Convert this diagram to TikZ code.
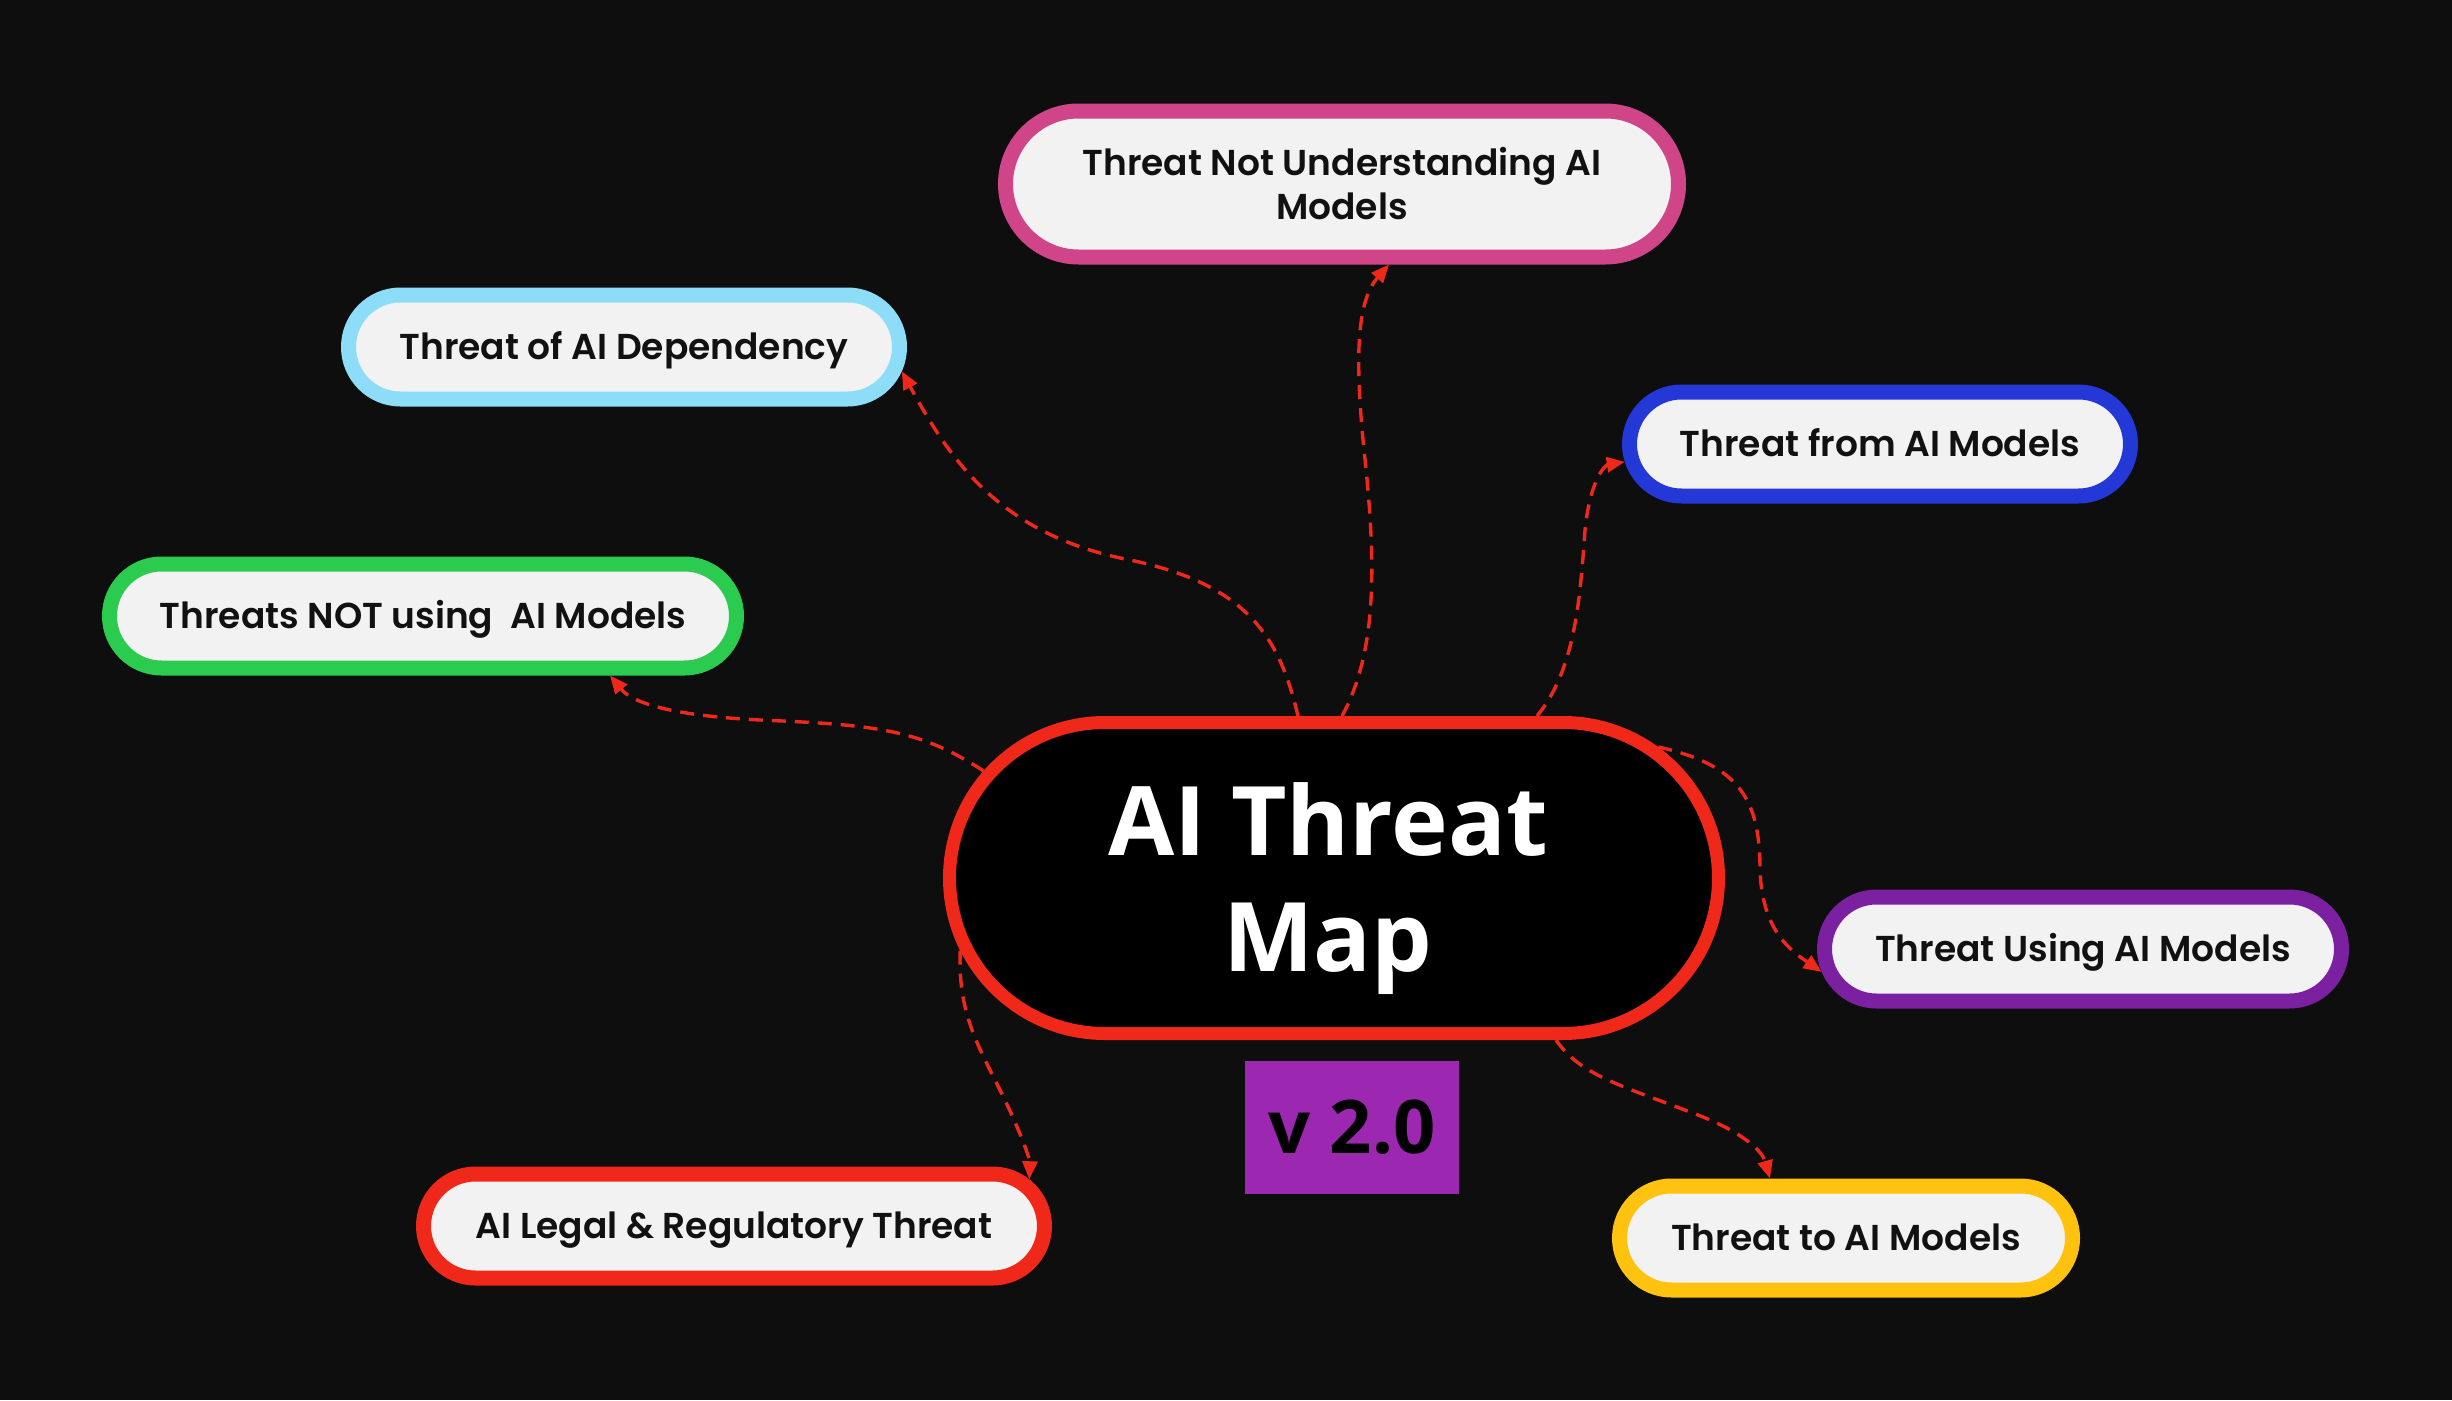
\documentclass[tikz,border=0pt]{standalone}
\usepackage{fontspec}
\setmainfont{Poppins}
\newfontfamily\pillfont{Poppins SemiBold}
\newfontfamily\centerfont{Open Sans}
\usetikzlibrary{shapes.misc,arrows.meta,backgrounds}
\definecolor{bg}{HTML}{0E0E0E}
\definecolor{pillfill}{HTML}{F2F2F2}
\definecolor{pilltext}{HTML}{111111}
\definecolor{linkred}{HTML}{F0281A}
\definecolor{cmagenta}{HTML}{CF4588}
\definecolor{clightblue}{HTML}{8EDDF8}
\definecolor{cblue}{HTML}{2438D8}
\definecolor{cgreen}{HTML}{2BCB4F}
\definecolor{cpurple}{HTML}{7A20A0}
\definecolor{cred}{HTML}{F0281A}
\definecolor{cyellow}{HTML}{FFC20E}
\definecolor{cvbox}{HTML}{9C27B0}
\tikzset{
  pill/.style={rounded rectangle, draw=#1, line width=15pt, fill=pillfill,
    text=pilltext, font=\pillfont\fontsize{36}{44}\selectfont, inner sep=0pt,
    minimum height=104pt, align=center},
  oneline/.style={text height=29pt, text depth=4pt},
  conn/.style={draw=linkred, line width=3.4pt, dash pattern=on 14pt off 9pt,
    -{Triangle[length=18pt,width=15pt]}},
}
\begin{document}
\begin{tikzpicture}[x=1pt,y=-1pt]
\begin{scope}[on background layer]
\fill[bg] (0,0) rectangle (2452,1400);
\end{scope}
\useasboundingbox (0,0) rectangle (2452,1400);

% center
\node[rounded rectangle, draw=cred, line width=13pt, fill=black,
  minimum width=769pt, minimum height=311pt, inner sep=0pt] (c) at (1334,878) {};
\node[text=white, align=center, inner sep=0pt,
  font=\centerfont\bfseries\fontsize{96}{116}\selectfont] (ctitle) at (1328,889) {AI Threat\\Map};

\node[pill=cmagenta, minimum width=673pt, minimum height=146pt] (p1) at (1342,184) {Threat Not Understanding AI\\Models};
\node[pill=clightblue, oneline, minimum width=551pt] (p2) at (624,347) {Threat of AI Dependency};
\node[pill=cblue, oneline, minimum width=501pt] (p3) at (1880,444) {Threat from AI Models};
\node[pill=cgreen, oneline, minimum width=627pt] (p4) at (423,616) {Threats NOT using\ \ AI Models};
\node[pill=cpurple, oneline, minimum width=517pt] (p5) at (2083,949) {Threat Using AI Models};
\node[pill=cred, oneline, minimum width=621pt] (p6) at (734,1226) {AI Legal \& Regulatory Threat};
\node[pill=cyellow, oneline, minimum width=453pt] (p7) at (1846,1238) {Threat to AI Models};

\node[fill=cvbox, minimum width=214pt, minimum height=133pt, inner sep=0pt, text=black,
  font=\centerfont\bfseries\fontsize{74}{80}\selectfont] (v) at (1352,1127) {v 2.0};

\begin{scope}[on background layer]
\draw[conn] ([xshift=8pt]c.north) .. controls (1378,650) and (1376,560) .. (1364,450)
  .. controls (1354,350) and (1358,300) .. ([xshift=47pt]p1.south);
\draw[conn] ([xshift=-36pt]c.north) .. controls (1280,640) and (1250,585) .. (1130,560)
  .. controls (1000,535) and (950,460) .. (p2.-5);
\draw[conn] ([xshift=203pt]c.north) .. controls (1575,670) and (1580,600) .. (1585,530)
  .. controls (1590,480) and (1605,465) .. (p3.184);
\draw[conn] (c.163) .. controls (920,730) and (880,725) .. (760,720)
  .. controls (660,715) and (630,700) .. ([xshift=187pt]p4.south);
\draw[conn] (c.22) .. controls (1740,765) and (1760,800) .. (1760,870)
  .. controls (1762,930) and (1790,950) .. (p5.185);
\draw[conn] ([xshift=222pt]c.south) .. controls (1580,1075) and (1620,1085) .. (1690,1112)
  .. controls (1740,1130) and (1762,1150) .. ([xshift=-76pt]p7.north);
\draw[conn] (c.191) .. controls (958,1010) and (975,1040) .. (1000,1090)
  .. controls (1020,1130) and (1030,1160) .. (p6.9);
\end{scope}
\end{tikzpicture}
\end{document}
